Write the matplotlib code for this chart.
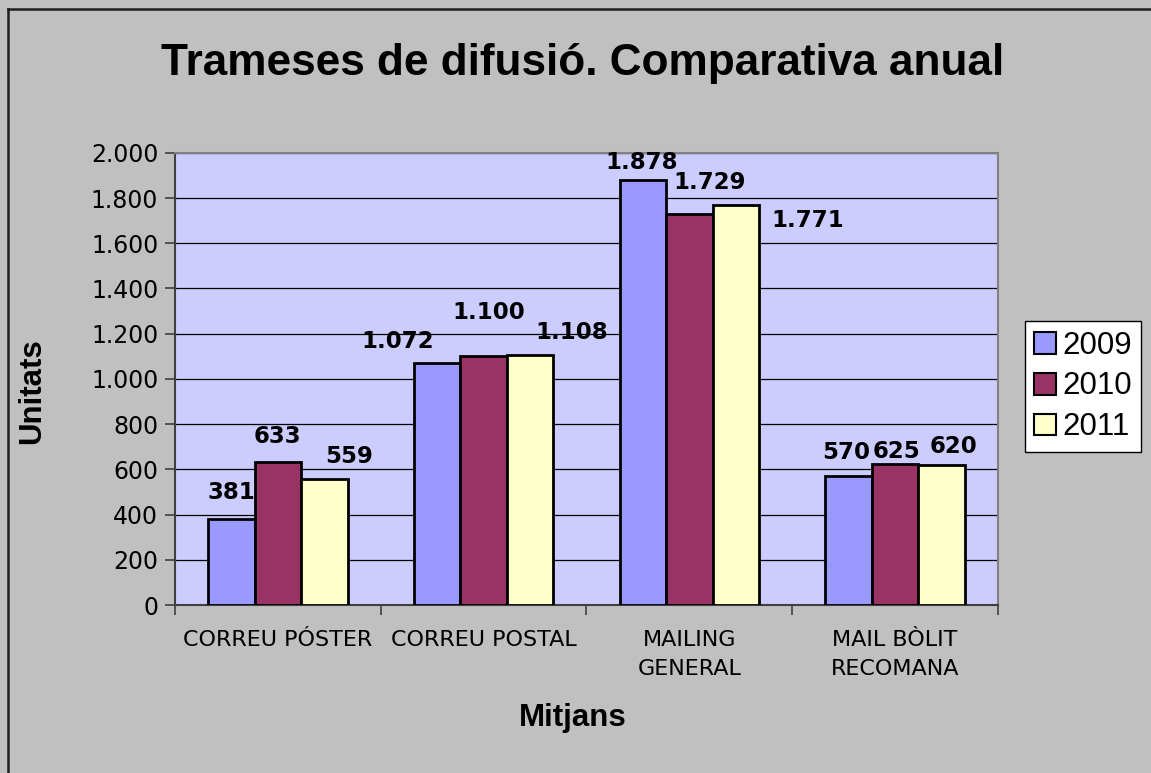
import numpy as np
import matplotlib.pyplot as plt
from matplotlib.lines import Line2D

# data
categories = ['CORREU PÓSTER', 'CORREU POSTAL', 'MAILING\nGENERAL', 'MAIL BÒLIT\nRECOMANA']
years = ['2009', '2010', '2011']
v2009 = [381, 1072, 1878, 570]
v2010 = [633, 1100, 1729, 625]
v2011 = [559, 1108, 1771, 620]
yticks = [0, 200, 400, 600, 800, 1000, 1200, 1400, 1600, 1800, 2000]

colors = ['#9999FF', '#993366', '#FFFFCC']

# label offsets in pixels (labels were moved by hand in the original)
label_dx = [[0, 0, 25], [-39, 5, 42], [-1, 20, 72], [-2, 1, 12]]
label_dy = [[26, 25, 22], [21, 44, 22], [18, 32, -16], [24, 12, 18]]


def fmt(v):
    return f'{v:,}'.replace(',', '.')


fig = plt.figure(figsize=(11.51, 7.73), dpi=100, facecolor='#C0C0C0')
ax = fig.add_axes([0.152, 0.2173, 0.715, 0.585])
ax.set_facecolor('#CCCCFF')

x = np.arange(len(categories))
w = 0.226
series = [v2009, v2010, v2011]
for i, vals in enumerate(series):
    pos = x + (i - 1) * w
    ax.bar(pos, vals, width=w, color=colors[i], edgecolor='black', linewidth=2, zorder=3)
    for j, v in enumerate(vals):
        ax.annotate(fmt(v), xy=(pos[j], v), xytext=(label_dx[j][i], label_dy[j][i]),
                    textcoords='offset pixels', ha='center', va='center',
                    fontsize=16.5, fontweight='bold', family='DejaVu Sans', zorder=4)

ax.set_xlim(-0.5, len(categories) - 0.5)
ax.set_ylim(0, 2000)
ax.set_yticks(yticks)
ax.set_yticklabels([fmt(t) for t in yticks], fontsize=17, family='DejaVu Sans')
ax.yaxis.grid(True, color='black', linewidth=0.9, zorder=0)
ax.set_axisbelow(True)

# category ticks at boundaries, labels at centers
ax.set_xticks(np.arange(len(categories) + 1) - 0.5)
ax.set_xticklabels([])
ax.set_xticks(x, minor=True)
ax.set_xticklabels(categories, minor=True, fontsize=16, family='DejaVu Sans', linespacing=1.55)
ax.tick_params(axis='x', which='minor', length=0, pad=18)
ax.tick_params(axis='x', which='major', length=7, color='#404040', width=1.2)
ax.tick_params(axis='y', length=7, color='#404040', width=1.2, pad=5)

for s in ax.spines.values():
    s.set_color('#808080')
    s.set_linewidth(1.5)
ax.spines['left'].set_color('#404040')
ax.spines['bottom'].set_color('#404040')

fig.text(0.5066, 0.918, 'Trameses de difusió. Comparativa anual', ha='center', va='center',
         fontsize=31.8, fontweight='bold', family='Liberation Sans')
fig.text(0.028, 0.494, 'Unitats', rotation=90, ha='center', va='center',
         fontsize=22.5, fontweight='bold', family='Liberation Sans')
fig.text(0.498, 0.071, 'Mitjans', ha='center', va='center',
         fontsize=22.5, fontweight='bold', family='Liberation Sans')

handles = [plt.Rectangle((0, 0), 1, 1, facecolor=c, edgecolor='black', linewidth=1.5) for c in colors]
leg = fig.legend(handles, years, loc='center left', bbox_to_anchor=(0.8905, 0.5),
                 prop={'family': 'Liberation Sans', 'size': 22.5}, fancybox=False,
                 edgecolor='black', facecolor='white', framealpha=1,
                 handlelength=0.7, handleheight=0.7, handletextpad=0.2,
                 labelspacing=0.35, borderpad=0.3, borderaxespad=0)
leg.get_frame().set_linewidth(1)

# chart area border (top and left edges visible)
fig.add_artist(Line2D([0.0069, 0.0069], [0, 0.989], transform=fig.transFigure, color='#202020', linewidth=1.8))
fig.add_artist(Line2D([0.0069, 1], [0.989, 0.989], transform=fig.transFigure, color='#202020', linewidth=1.8))

fig.savefig('out.png', dpi=100, facecolor=fig.get_facecolor())
